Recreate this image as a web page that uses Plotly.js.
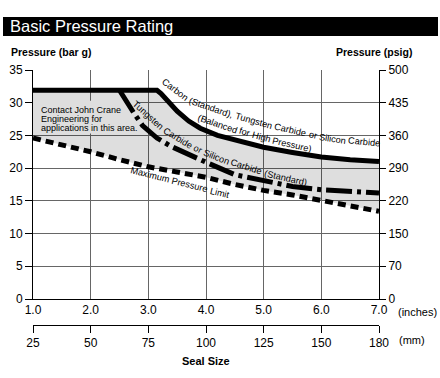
<!DOCTYPE html>
<html><head><meta charset="utf-8">
<script src="https://cdn.plot.ly/plotly-3.0.1.min.js"></script>
<style>html,body{margin:0;padding:0;background:#fff}#chart{width:440px;height:378px}</style>
</head><body><div id="chart"></div>
<script>
// ---- data ----
const inchTicks = [1, 2, 3, 4, 5, 6, 7];
const inchLabels = ['1.0', '2.0', '3.0', '4.0', '5.0', '6.0', '7.0'];
const mmLabels = ['25', '50', '75', '100', '125', '150', '180'];
const barTicks = [0, 5, 10, 15, 20, 25, 30, 35];
const psigLabels = ['0', '70', '150', '220', '290', '360', '435', '500'];

// Carbon (Standard), Tungsten Carbide or Silicon Carbide (Balanced for High Pressure)
const balancedX = [1.0, 3.15, 3.22, 3.3, 3.4, 3.5, 3.7, 3.9, 4.2, 4.5, 5.0, 5.5, 6.0, 6.5, 7.0];
const balancedY = [31.9, 31.9, 31.4, 30.6, 29.6, 28.7, 27.2, 26.1, 25.0, 24.3, 23.2, 22.4, 21.7, 21.3, 21.0];
// Tungsten Carbide or Silicon Carbide (Standard)
const standardX = [2.5, 2.6, 2.75, 2.9, 3.15, 3.4, 3.7, 4.0, 4.5, 5.0, 5.5, 6.0, 6.5, 7.0];
const standardY = [31.9, 30.4, 28.4, 26.5, 24.6, 23.3, 22.0, 20.9, 19.0, 18.1, 17.2, 16.7, 16.4, 16.2];
// Maximum Pressure Limit
const limitX = [1.0, 1.5, 2.0, 2.5, 3.0, 3.5, 4.0, 4.5, 5.0, 5.5, 6.0, 6.5, 7.0];
const limitY = [24.6, 23.6, 22.5, 21.3, 20.2, 19.4, 18.6, 17.5, 16.6, 15.9, 15.1, 14.3, 13.4];

// ---- layout helpers (pixel -> paper / data positions) ----
const PX = px => (px - 33) / 346;
const PY = py => (325 - py) / 255;
const DX = px => 1 + (px - 33) * 6 / 346;
const DY = py => (299 - py) * 35 / 229;
const FONT = 'Liberation Sans, Arial, sans-serif';

const traces = [
  {x: limitX, y: limitY, mode: 'lines', line: {width: 0}, hoverinfo: 'skip'},
  {x: balancedX, y: balancedY, mode: 'lines', line: {width: 0}, fill: 'tonexty',
   fillcolor: 'rgba(0,0,0,0.13)', hoverinfo: 'skip'},
  {x: balancedX, y: balancedY, mode: 'lines', line: {color: '#000', width: 5}},
  {x: standardX, y: standardY, mode: 'lines', line: {color: '#000', width: 5, dash: '26px,5px,4px,5px'}},
  {x: limitX, y: limitY, mode: 'lines', line: {color: '#000', width: 5, dash: '8px,5px'}},
  {x: inchTicks, y: inchTicks.map(() => null), xaxis: 'x2', yaxis: 'y', mode: 'lines', hoverinfo: 'skip'},
  {x: inchTicks, y: inchTicks.map(() => null), xaxis: 'x', yaxis: 'y2', mode: 'lines', hoverinfo: 'skip'}
];

// curve labels: text laid word by word along a guide path (pixel positions)
const curveTexts = [
  {t: 'Carbon (Standard), Tungsten Carbide or Silicon Carbide',
   path: [[164, 80], [178, 92], [194, 102], [212, 108], [232, 114], [252, 120], [275, 126.5],
          [300, 132.5], [325, 137.5], [350, 141], [380, 144]]},
  {t: '(Balanced for High Pressure)',
   path: [[198, 116.5], [220, 124.5], [245, 132.5], [270, 139.5], [295, 145.5], [315, 149.5]]},
  {t: 'Tungsten Carbide or Silicon Carbide (Standard)',
   path: [[134, 102], [150, 117.5], [166, 130.5], [186, 143], [210, 154.5], [235, 163.5],
          [260, 171.5], [285, 177.5], [310, 182.5]]},
  {t: 'Maximum Pressure Limit',
   path: [[131, 170.5], [182, 183.5], [236, 196.5]]}
];
const labelSize = 9.2;
const ctx = document.createElement('canvas').getContext('2d');
ctx.font = labelSize + 'px "Liberation Sans"';
function wordsAlong(text, path) {
  const cum = [0];
  for (let i = 1; i < path.length; i++) {
    cum.push(cum[i - 1] + Math.hypot(path[i][0] - path[i - 1][0], path[i][1] - path[i - 1][1]));
  }
  const at = s => {
    let i = 1;
    while (i < path.length - 1 && cum[i] < s) i++;
    const f = (s - cum[i - 1]) / (cum[i] - cum[i - 1]);
    return [path[i - 1][0] + f * (path[i][0] - path[i - 1][0]), path[i - 1][1] + f * (path[i][1] - path[i - 1][1])];
  };
  const sp = ctx.measureText(' ').width;
  let cur = 0;
  const out = [];
  text.split(' ').forEach(w => {
    const wd = ctx.measureText(w).width;
    const a = at(cur), b = at(cur + wd), m = at(cur + wd / 2);
    out.push({t: w, x: DX(m[0]), y: DY(m[1]), a: Math.atan2(b[1] - a[1], b[0] - a[0]) * 180 / Math.PI});
    cur += wd + sp;
  });
  return out;
}
const contactLines = [
  {t: 'Contact John Crane', y: 28.9},
  {t: 'Engineering for', y: 27.5},
  {t: 'applications in this area.', y: 26.1}
];

const annotations = [];
curveTexts.forEach(c => wordsAlong(c.t, c.path).forEach(w => annotations.push({
  text: w.t, x: w.x, y: w.y, xref: 'x', yref: 'y', textangle: w.a, showarrow: false,
  xanchor: 'center', yanchor: 'middle', font: {family: FONT, size: labelSize, color: '#000'}
})));
contactLines.forEach(c => annotations.push({
  text: c.t, x: 1.1, y: c.y, xref: 'x', yref: 'y', showarrow: false,
  xanchor: 'left', yanchor: 'middle', font: {family: FONT, size: 9, color: '#000'}
}));
annotations.push(
  {text: 'Basic Pressure Rating', xref: 'paper', yref: 'paper', x: PX(8), y: PY(26.5),
   xanchor: 'left', yanchor: 'middle', showarrow: false, font: {family: FONT, size: 16.5, color: '#fff'}},
  {text: '<b>Pressure (bar g)</b>', xref: 'paper', yref: 'paper', x: PX(9), y: PY(52),
   xanchor: 'left', yanchor: 'middle', showarrow: false, font: {family: FONT, size: 10.5, color: '#000'}},
  {text: '<b>Pressure (psig)</b>', xref: 'paper', yref: 'paper', x: PX(414), y: PY(52),
   xanchor: 'right', yanchor: 'middle', showarrow: false, font: {family: FONT, size: 10.5, color: '#000'}},
  {text: '(inches)', xref: 'paper', yref: 'paper', x: PX(396), y: PY(312),
   xanchor: 'left', yanchor: 'middle', showarrow: false, font: {family: FONT, size: 11, color: '#000'}},
  {text: '(mm)', xref: 'paper', yref: 'paper', x: PX(397), y: PY(340),
   xanchor: 'left', yanchor: 'middle', showarrow: false, font: {family: FONT, size: 11, color: '#000'}},
  {text: '<b>Seal Size</b>', xref: 'x', yref: 'paper', x: 4, y: PY(361),
   xanchor: 'center', yanchor: 'middle', showarrow: false, font: {family: FONT, size: 11, color: '#000'}}
);

const tickFont = {family: FONT, size: 12, color: '#000'};
const layout = {
  width: 440, height: 378,
  margin: {l: 33, r: 61, t: 70, b: 53, pad: 0},
  paper_bgcolor: '#fff', plot_bgcolor: '#fff',
  showlegend: false,
  font: {family: FONT, size: 12, color: '#000'},
  xaxis: {range: [1, 7], tickmode: 'array', tickvals: inchTicks, ticktext: inchLabels,
    showgrid: true, gridcolor: '#666', gridwidth: 1, zeroline: false,
    showline: true, linecolor: '#000', linewidth: 1, ticks: '', anchor: 'y', tickfont: tickFont, fixedrange: true},
  xaxis2: {range: [1, 7], overlaying: 'x', anchor: 'free', position: 0, side: 'bottom',
    tickmode: 'array', tickvals: inchTicks, ticktext: mmLabels, showgrid: false, zeroline: false,
    showline: true, linecolor: '#000', linewidth: 1, ticks: 'outside', ticklen: 7, tickcolor: '#000',
    tickfont: tickFont, fixedrange: true},
  yaxis: {domain: [26 / 255, 1], range: [0, 35], tickmode: 'array', tickvals: barTicks,
    showgrid: true, gridcolor: '#666', gridwidth: 1, zeroline: false,
    showline: true, linecolor: '#000', linewidth: 1, ticks: 'outside', ticklen: 7, tickcolor: '#000',
    tickfont: tickFont, fixedrange: true},
  yaxis2: {overlaying: 'y', side: 'right', anchor: 'x', range: [0, 35], tickmode: 'array',
    tickvals: barTicks, ticktext: psigLabels, showgrid: false, zeroline: false,
    showline: true, linecolor: '#000', linewidth: 1, ticks: 'outside', ticklen: 6, tickcolor: '#000',
    tickfont: tickFont, fixedrange: true},
  shapes: [
    {type: 'rect', xref: 'paper', yref: 'paper', x0: PX(3), x1: PX(438), y0: PY(36), y1: PY(17),
     fillcolor: '#000', line: {width: 0}, layer: 'above'},
    {type: 'rect', xref: 'x', yref: 'y', x0: 1.0, x1: 2.8, y0: 25.3, y1: 30.3,
     fillcolor: '#fff', line: {width: 0}, layer: 'between'}
  ],
  annotations: annotations
};

Plotly.newPlot('chart', traces, layout, {displayModeBar: false, staticPlot: true});
</script>
</body></html>
